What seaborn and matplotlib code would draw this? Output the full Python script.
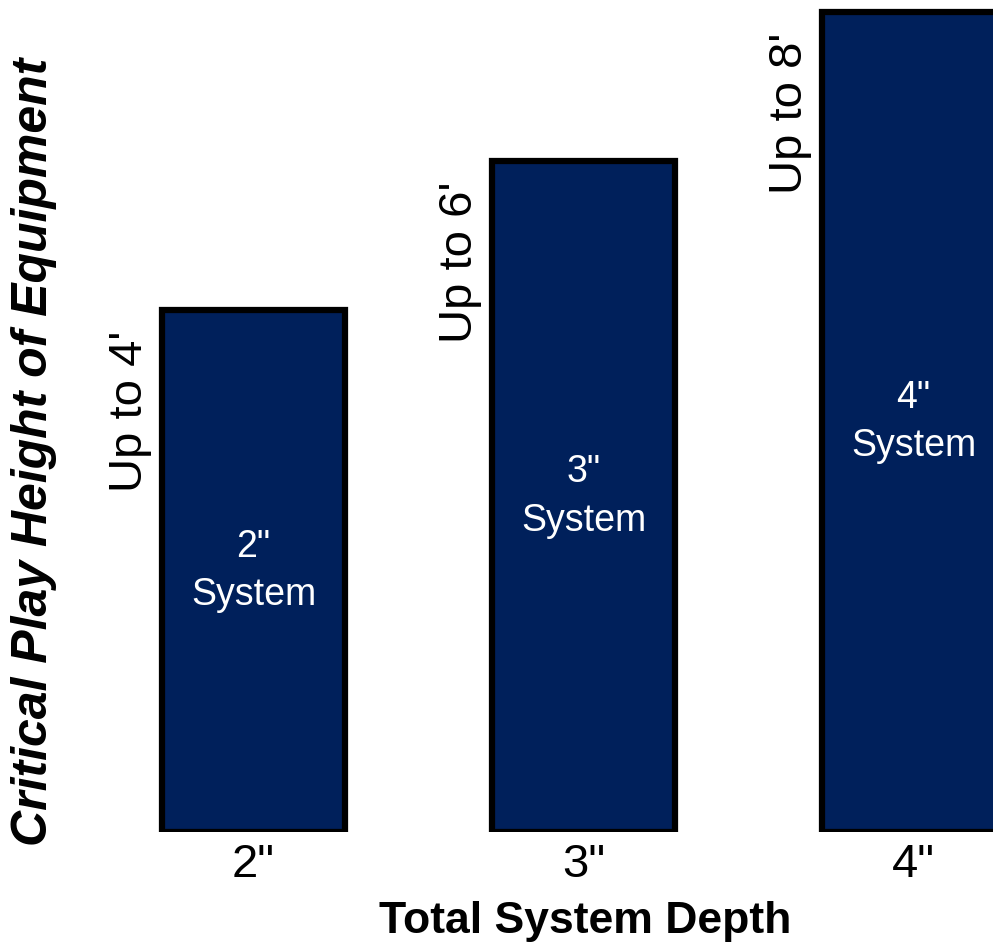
import matplotlib
matplotlib.use("Agg")
import matplotlib.pyplot as plt
import seaborn as sns
import pandas as pd

# values
depths = ['2"', '3"', '4"']
bar_heights = [7, 9, 11]          # bar heights in chart units (axis starts at 0)
height_labels = ["Up to 4'", "Up to 6'", "Up to 8'"]
inner_labels = ['2"\nSystem', '3"\nSystem', '4"\nSystem']

df = pd.DataFrame({'Depth': depths, 'Height': bar_heights})

sns.set_style('white')
plt.rcParams['font.family'] = ['Liberation Sans', 'DejaVu Sans']
plt.rcParams['text.color'] = 'black'
plt.rcParams['axes.labelcolor'] = 'black'
plt.rcParams['xtick.color'] = 'black'

fig = plt.figure(figsize=(9.93, 9.48), dpi=100)
W, H = 993, 948
ax = fig.add_axes([88.5 / W, 116 / H, (W - 88.5) / W, (H - 116) / H])

sns.barplot(data=df, x='Depth', y='Height', color='#00205B', saturation=1,
            width=0.555, edgecolor='black', linewidth=4.5, ax=ax)

ax.set_xlim(-0.5, 2.241)
ax.set_ylim(0, 11.16)
sns.despine(ax=ax, left=True, bottom=True, top=True, right=True)
ax.set_yticks([])
ax.tick_params(axis='x', length=0, pad=8, labelsize=34)

for p, top_txt, mid_txt in zip(ax.patches, height_labels, inner_labels):
    x0 = p.get_x()
    h = p.get_height()
    cx = x0 + p.get_width() / 2
    ax.text(x0 - 0.03, h - 0.28, top_txt, rotation=90, ha='right', va='top',
            fontsize=34)
    ax.text(cx, h / 2, mid_txt, ha='center', va='center', fontsize=27,
            color='white', linespacing=1.45)

ax.set_xlabel('Total System Depth', fontsize=32, fontweight='bold')
ax.xaxis.set_label_coords((585 - 88.5) / 904.5, (26 - 116) / 832)
ax.xaxis.label.set_va('center')
ax.set_ylabel('Critical Play Height of Equipment', fontsize=36,
              fontweight='bold', fontstyle='italic')
ax.yaxis.set_label_coords((34 - 88.5) / 904.5, (496 - 116) / 832)
ax.yaxis.label.set_va('center')

fig.savefig('out.png', dpi=100)
